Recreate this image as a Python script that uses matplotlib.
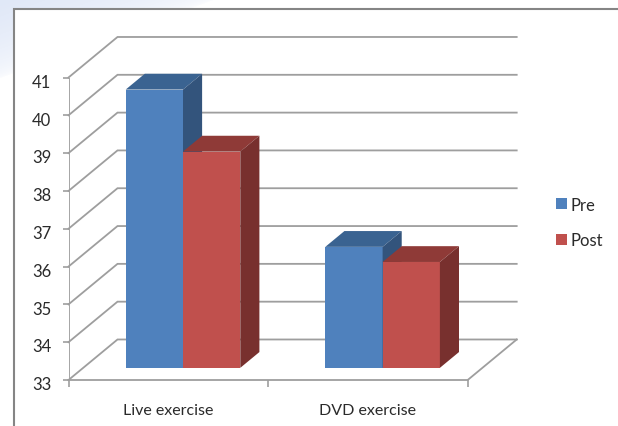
import matplotlib
matplotlib.use("Agg")
import matplotlib.pyplot as plt
import numpy as np
from matplotlib.patches import Polygon, Rectangle
from matplotlib.transforms import ScaledTranslation

# survey values
categories = ["Live exercise", "DVD exercise"]
series_names = ["Pre", "Post"]
pre_values = [40.36, 36.2]
post_values = [38.72, 35.8]
y_ticks = [33, 34, 35, 36, 37, 38, 39, 40, 41]

W, H = 618, 427
GRID = "#9e9e9e"
FRAME = "#858585"
TEXT = "#2a2a2a"

# front, top and side shades per series
COLORS = {
    "Pre": ("#4f81bd", "#3a6391", "#33547c"),
    "Post": ("#c0504d", "#8f3a37", "#78302e"),
}

# depth of the box in data units
DEPTH_X = 49 / 199.6
DEPTH_Y = 40.5 / 37.8
BAR_WIDTH = 0.287
BAR_NEAR = 0.30
BAR_FAR = 0.69

plt.rcParams["font.family"] = ["Lato", "DejaVu Sans"]

fig = plt.figure(figsize=(W / 100, H / 100), dpi=100)

# page wash behind the chart frame
bg = fig.add_axes([0, 0, 1, 1], zorder=0)
bg.set_xlim(0, W)
bg.set_ylim(H, 0)
bg.axis("off")
yy, xx = np.mgrid[0:H, 0:W]
fade = np.clip(1.05 - (xx / 205 + yy / 75), 0, 1) ** 0.45
wash = np.ones((H, W, 3))
wash[..., 0] -= fade * 0.12
wash[..., 1] -= fade * 0.09
wash[..., 2] -= fade * 0.03
bg.imshow(wash, extent=(0, W, H, 0), aspect="auto", interpolation="bilinear")
bg.add_patch(Rectangle((14, 10), W, H, fc="white", ec=FRAME, lw=1.5))

x0, x1 = 68.5, 467.7
y_bottom, y_top = 381.0, 78.5
ax = fig.add_axes([x0 / W, 1 - y_bottom / H, (x1 - x0) / W, (y_bottom - y_top) / H], zorder=1)
ax.set_xlim(0, 2)
ax.set_ylim(33, 41)
ax.patch.set_visible(False)
for s in ax.spines.values():
    s.set_visible(False)


def project(x, y, d):
    return (x + d * DEPTH_X, y + d * DEPTH_Y)


# back wall gridlines and their slanted side wall partners
for v in y_ticks:
    ax.plot(*zip(project(0, v, 0), project(0, v, 1), project(2, v, 1)),
            color=GRID, lw=1.3, clip_on=False, solid_joinstyle="miter", zorder=1)
# floor
ax.plot(*zip(project(0, 33, 0), project(2, 33, 0), project(2, 33, 1)),
        color=GRID, lw=1.3, clip_on=False, solid_joinstyle="miter", zorder=1)
# value axis
ax.plot([0, 0], [33, 41], color=GRID, lw=1.3, zorder=2)

ax.set_xticks([0, 1, 2])
ax.set_xticklabels([])
ax.set_yticks(y_ticks)
ax.tick_params(axis="y", length=4, width=1.2, color=GRID, labelsize=12,
               labelcolor=TEXT, pad=8.5)
ax.tick_params(axis="x", length=5, width=1.2, color=GRID)
# value labels sit slightly below their ticks
label_shift = ScaledTranslation(0, -2 / 72, fig.dpi_scale_trans)
for lbl in ax.get_yticklabels():
    lbl.set_transform(lbl.get_transform() + label_shift)

for i, cat in enumerate(categories):
    ax.text(i + 0.5, 32.2, cat, ha="center", va="center", fontsize=11.5, color=TEXT)


def draw_bar(left, value, name):
    front, top, side = COLORS[name]
    right = left + BAR_WIDTH
    p = lambda x, y, d: project(x, y, d)
    ax.add_patch(Polygon([p(left, 33, BAR_NEAR), p(right, 33, BAR_NEAR),
                          p(right, value, BAR_NEAR), p(left, value, BAR_NEAR)],
                         fc=front, ec="none", clip_on=False, zorder=3))
    ax.add_patch(Polygon([p(left, value, BAR_NEAR), p(right, value, BAR_NEAR),
                          p(right, value, BAR_FAR), p(left, value, BAR_FAR)],
                         fc=top, ec="none", clip_on=False, zorder=3))
    ax.add_patch(Polygon([p(right, 33, BAR_NEAR), p(right, 33, BAR_FAR),
                          p(right, value, BAR_FAR), p(right, value, BAR_NEAR)],
                         fc=side, ec="none", clip_on=False, zorder=3))


for i in range(len(categories)):
    draw_bar(i + 0.5 - BAR_WIDTH, pre_values[i], "Pre")
    draw_bar(i + 0.5, post_values[i], "Post")

# legend set by hand so swatches stay small and tight to the labels
for name, ypix in zip(series_names, (204.5, 240)):
    bg.add_patch(Rectangle((556, ypix - 5.5), 10.5, 11, fc=COLORS[name][0], ec="none"))
    bg.text(570, ypix + 1.5, name, ha="left", va="center", fontsize=12, color=TEXT)

fig.savefig("out.png", dpi=100)
